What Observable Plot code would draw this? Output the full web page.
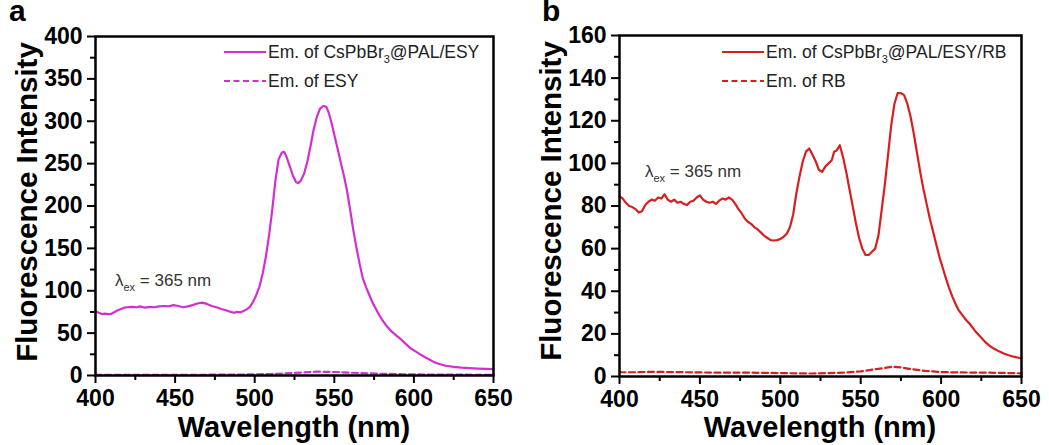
<!DOCTYPE html>
<html><head><meta charset="utf-8">
<script src="https://cdn.jsdelivr.net/npm/d3@7"></script>
<script src="https://cdn.jsdelivr.net/npm/@observablehq/plot@0.6"></script>
<style>
body{margin:0;background:#fff;}
#wrap{display:flex;width:1049px;height:445px;overflow:hidden;}
svg text{font-family:"Liberation Sans",Arial,sans-serif;}
[aria-label^="x-axis"] line,[aria-label^="x-axis"] path,[aria-label^="y-axis"] line,[aria-label^="y-axis"] path{stroke-width:2px;stroke:#000;}
</style></head><body><div id="wrap"></div>
<script>
// ---- tick values ----
const wavelengthTicks = [400, 450, 500, 550, 600, 650];
const wavelengthMinor = [425, 475, 525, 575, 625];
const yTicksA = [0, 50, 100, 150, 200, 250, 300, 350, 400];
const yMinorA = [25, 75, 125, 175, 225, 275, 325, 375];
const yTicksB = [0, 20, 40, 60, 80, 100, 120, 140, 160];
const yMinorB = [10, 30, 50, 70, 90, 110, 130, 150];

// ---- panel a: Em. of CsPbBr3@PAL/ESY (solid) ----
const wlA = [400,402,404,406,408,410,412,414,416,418,420,423,426,428,431,434,437,440,443,446,449,452,455,458,461,464,467,470,473,476,479,482,485,487,489,491,493,495,497,499,501,503,505,507,509,511,513,515,517,518.5,520,522,524,526,527.5,529,531,533,535,537,539,541,543,545,546.5,548,550,552,554,556,558,560,562,564,566,568,570,572,574,576,578,580,583,586,589,592,595,598,601,604,607,610,613,616,620,625,630,635,640,645,650];
const intA = [75.5,74,72.5,73,72.5,72.8,75,77,78.5,80,80.5,81,80.5,81.5,80,81,80.5,81.5,82,81.5,83,82,80.5,81.5,83,85,86,84.5,82,80.5,78.5,77,75,74,75,74.5,76,78,81,87,95,105,120,140,165,195,230,255,263,264,258,247,236,228,227,230,238,252,270,290,305,315,318,317,310,300,284,268,252,236,218,195,171,150,131,114,104,95,86,79,72,66,58,52,47,42.5,37,32,28.5,25,21.5,18.5,15.5,13.5,11.5,10.2,9.2,8.6,8.2,7.8,7.5];
// ---- panel a: Em. of ESY (dashed) ----
const wlAdash = [400,420,440,460,480,500,510,520,530,540,550,560,570,580,590,600,620,650];
const intAdash = [0.7,0.7,0.8,0.8,1,1.3,1.8,2.6,3.6,4.5,4.1,3.3,2.6,2,1.6,1.3,1,0.8];

// ---- panel b: Em. of CsPbBr3@PAL/ESY/RB (solid) ----
const wlB = [400,402,404,406,408,410,412,414,416,418,420,422,424,426,428,430,432,434,436,438,440,442,444,446,448,450,452,454,456,458,460,462,464,466,468,470,472,474,476,478,480,482,484,486,488,490,492,494,496,498,500,502,504,506,508,510,512,514,516,518,520,522,524,526,528,530,532,533.5,535,537,539,541,543,545,547,549,551,553,555,557,559,561,563,565,567,569,571,573,575,577,579,581,583,585,587,589,591,593,595,597,599,601,603,605,607,609,611,613,615,618,621,624,627,630,633,636,639,642,645,648,650];
const intB = [84.5,83.5,81.5,80,79.5,78.5,77,77.5,80.5,82,83,82.5,84,83.5,85.5,83,82,83,81.5,82,81,80.5,82,82.5,84,85,83,82,81.5,82,81,82.5,83.5,83,84,83,81,78.5,76.5,74,72.5,71.5,70,69,67.5,66,65,64,63.8,64,64.5,65.5,67,70,76,86,94,101,105.5,107,104,101,97,96,98.5,100,101.5,105.5,106,108.5,103,96,88,80,72,65,60,57,57,58.5,60,66,78,90,104,118,128,133,133,132,128,122,114,105,96,88,81,74,68,62,56,51,46,41.5,37.5,34,31,29,27,24.5,21.5,19,16.5,14.5,13,11.8,10.8,10,9.3,8.8,8.5];
// ---- panel b: Em. of RB (dashed) ----
const wlBdash = [400,410,420,440,460,480,500,520,540,550,560,570,575,580,590,600,610,630,650];
const intBdash = [2,2,2.2,2,1.8,1.8,1.6,1.4,1.8,2.4,3.5,4.6,4.3,3.6,2.6,2.1,1.9,1.8,1.5];

const FONT = '"Liberation Sans", Arial, sans-serif';

function panel(p) {
  const solid = p.wl.map((w, i) => ({wl: w, v: p.val[i]}));
  const dashed = p.wlDash.map((w, i) => ({wl: w, v: p.valDash[i]}));
  const innerW = p.width - p.mL - p.mR, innerH = 445 - p.mT - p.mB;
  const svg = Plot.plot({
    width: p.width, height: 445,
    marginLeft: p.mL, marginRight: p.mR, marginTop: p.mT, marginBottom: p.mB,
    style: {fontFamily: FONT, fontSize: "23px", fontWeight: "bold", color: "black", background: "white", overflow: "visible"},
    x: {domain: [400, 650], ticks: wavelengthTicks, tickSize: 8, tickPadding: 6, label: null, tickFormat: d => String(d)},
    y: {domain: p.yDomain, ticks: p.yTicks, tickSize: 8, tickPadding: 5, label: null, tickFormat: d => String(d)},
    marks: [
      Plot.ruleX(wavelengthMinor, {x: d => d, insetTop: innerH - 5, dy: 5, stroke: "black", strokeWidth: 2}),
      Plot.ruleY(p.yMinor, {y: d => d, insetRight: innerW - 5, dx: -5, stroke: "black", strokeWidth: 2}),
      Plot.line(dashed, {x: "wl", y: "v", stroke: p.color, strokeWidth: 2.2, strokeDasharray: "6,3.5"}),
      Plot.line(solid, {x: "wl", y: "v", stroke: p.color, strokeWidth: 2.2}),
      Plot.frame({stroke: "black", strokeWidth: 2.5})
    ]
  });
  const s = d3.select(svg);
  const g = s.append("g").attr("font-family", FONT).attr("text-anchor", "start").attr("font-weight", "normal");
  // panel letter
  g.append("text").attr("x", p.letterX).attr("y", 21).attr("font-size", 30).attr("font-weight", "bold").attr("fill", "#000").text(p.letter);
  // axis titles
  g.append("text").attr("x", p.mL + innerW / 2).attr("y", 437).attr("text-anchor", "middle")
    .attr("font-size", 29).attr("font-weight", "bold").attr("fill", "#000").text("Wavelength (nm)");
  g.append("text").attr("transform", `translate(37,${p.mT + 166}) rotate(-90)`).attr("text-anchor", "middle")
    .attr("font-size", 29.5).attr("font-weight", "bold").attr("fill", "#000").text("Fluorescence Intensity");
  // legend
  const lx = p.legendX;
  const rows = [{y: 52, dash: null, parts: p.legend1}, {y: 81, dash: "6,3.5", parts: p.legend2}];
  rows.forEach(r => {
    const ln = g.append("line").attr("x1", lx).attr("x2", lx + 42).attr("y1", r.y).attr("y2", r.y)
      .attr("stroke", p.color).attr("stroke-width", 2.2);
    if (r.dash) ln.attr("stroke-dasharray", r.dash);
    const t = g.append("text").attr("x", lx + 44).attr("y", r.y + 6).attr("font-size", 17.5).attr("fill", "#222");
    r.parts.forEach((part, i) => {
      if (i === 0) { t.append("tspan").text(part); return; }
      if (i % 2 === 1) t.append("tspan").attr("dy", 5).attr("font-size", 11).text(part);
      else t.append("tspan").attr("dy", -5).text(part);
    });
  });
  // excitation annotation
  const a = g.append("text").attr("x", p.annX).attr("y", p.annY).attr("font-size", 17).attr("fill", "#333");
  a.append("tspan").text("λ");
  a.append("tspan").attr("dy", 5).attr("font-size", 11).text("ex");
  a.append("tspan").attr("dy", -5).text(" = 365 nm");
  return svg;
}

const wrap = document.getElementById("wrap");
wrap.append(panel({
  wl: wlA, val: intA, wlDash: wlAdash, valDash: intAdash, color: "#d22fd2",
  yDomain: [0, 400], yTicks: yTicksA, yMinor: yMinorA,
  width: 524, mL: 95, mR: 31, mT: 36, mB: 70,
  letter: "a", letterX: 9,
  legendX: 224, legend1: ["Em. of CsPbBr", "3", "@PAL/ESY"], legend2: ["Em. of ESY"],
  annX: 115, annY: 286
}));
wrap.append(panel({
  wl: wlB, val: intB, wlDash: wlBdash, valDash: intBdash, color: "#d81f1f",
  yDomain: [0, 160], yTicks: yTicksB, yMinor: yMinorB,
  width: 525, mL: 95, mR: 28, mT: 35, mB: 69,
  letter: "b", letterX: 18,
  legendX: 198, legend1: ["Em. of CsPbBr", "3", "@PAL/ESY/RB"], legend2: ["Em. of RB"],
  annX: 121, annY: 177
}));
</script></body></html>
